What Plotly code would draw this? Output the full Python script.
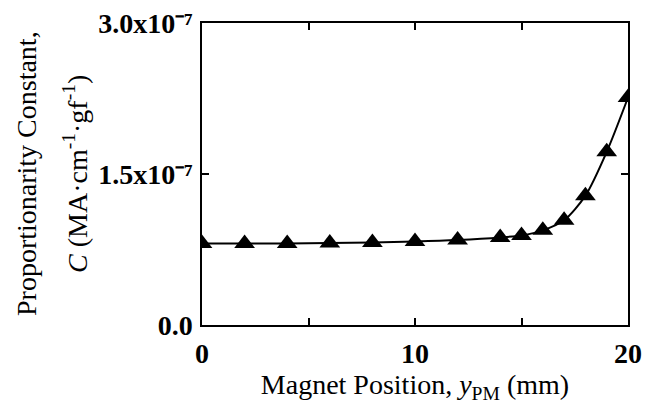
import plotly.graph_objects as go

# Data (C in units of 1e-7 MA·cm^-1·gf^-1)
positions_mm = [0, 2, 4, 6, 8, 10, 12, 14, 15, 16, 17, 18, 19, 20]
c_values_e7 = [0.81, 0.81, 0.81, 0.815, 0.82, 0.83, 0.845, 0.87, 0.89, 0.94, 1.04, 1.285, 1.72, 2.26]
c_values = [v * 1e-7 for v in c_values_e7]

x_tickvals = [0, 5, 10, 15, 20]
x_ticktext = ["0", "", "10", "", "20"]
y_tickvals = [0, 1.5e-7, 3.0e-7]
y_ticktext = ["0.0", "1.5x10⁻⁷", "3.0x10⁻⁷"]

SERIF = "Liberation Serif, Times New Roman, serif"

fig = go.Figure()
fig.add_trace(go.Scatter(
    x=positions_mm, y=c_values,
    mode="lines+markers",
    line=dict(color="black", width=2, shape="spline", smoothing=0.8),
    marker=dict(symbol="triangle-up", size=18, color="black"),
    showlegend=False,
))

axis_common = dict(
    showline=True, linecolor="black", linewidth=1.5, mirror="ticks",
    ticks="inside", ticklen=7, tickwidth=1.5, tickcolor="black",
    showgrid=False, zeroline=False, automargin=False,
    ticklabeloverflow="allow",
    tickfont=dict(family=SERIF, size=28, color="black", weight="bold"),
)

fig.update_xaxes(
    range=[0, 20], tickmode="array", tickvals=x_tickvals, ticktext=x_ticktext,
    ticklabelstandoff=3,
    title=dict(text="Magnet Position, <i>y</i><sub>PM</sub> (mm)",
               font=dict(family=SERIF, size=28, color="black"), standoff=6),
    **axis_common,
)
fig.update_yaxes(
    range=[0, 3.0e-7], tickmode="array", tickvals=y_tickvals, ticktext=y_ticktext,
    ticklabelstandoff=2,
    **axis_common,
)

fig.add_annotation(
    text="Proportionarity Constant,", xref="paper", yref="paper",
    x=0, y=0.5, xanchor="center", yanchor="middle", xshift=-176, textangle=-90,
    showarrow=False, font=dict(family=SERIF, size=28, color="black"),
)
fig.add_annotation(
    text="<i>C</i> (MA·cm<sup>-1</sup>·gf<sup>-1</sup>)", xref="paper", yref="paper",
    x=0, y=0.5, xanchor="center", yanchor="middle", xshift=-127, textangle=-90,
    showarrow=False, font=dict(family=SERIF, size=28, color="black"),
)

# The page body adds an 8px margin, so the figure is sized to fit the 656x406 window.
fig.update_layout(
    width=648, height=398,
    margin=dict(l=194, r=28, t=15, b=81),
    paper_bgcolor="white", plot_bgcolor="white",
)

fig.write_html("out.html")
